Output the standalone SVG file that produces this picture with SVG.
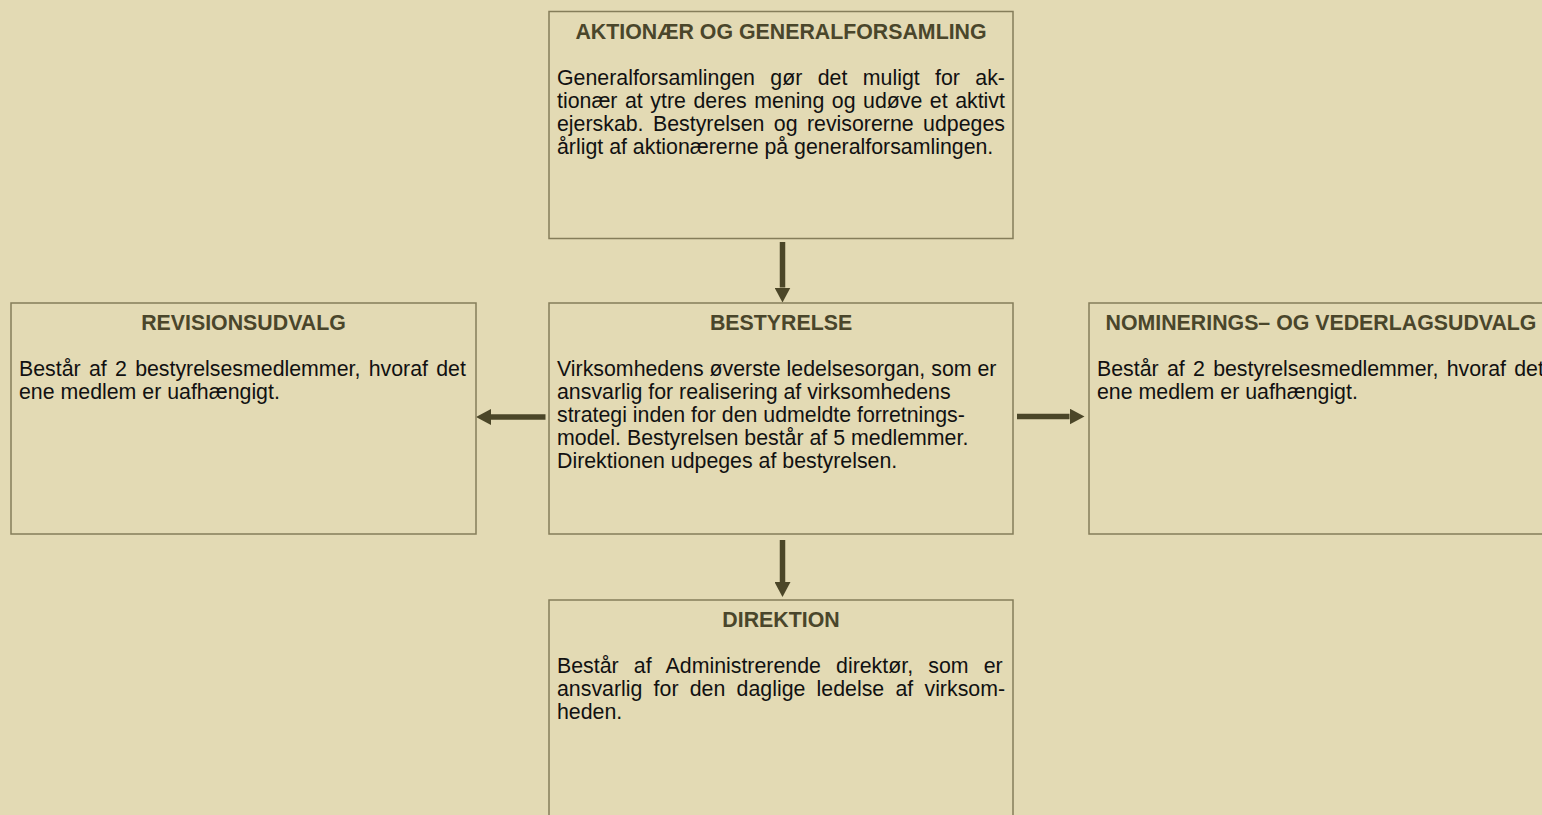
<svg xmlns="http://www.w3.org/2000/svg" width="1542" height="815" viewBox="0 0 1542 815">
<defs>
<style>
.box{fill:#E3DAB4;stroke:#857D5A;stroke-width:1.5}
.title{font-family:"Liberation Sans",Arial,sans-serif;font-weight:bold;font-size:21.33px;fill:#4A462B;text-anchor:middle}
.body{font-family:"Liberation Sans",Arial,sans-serif;font-size:21.33px;fill:#111111}
.conn{stroke:#4B4628;stroke-width:5.5;fill:none}
</style>
<marker id="ah" markerUnits="userSpaceOnUse" markerWidth="16" markerHeight="16" refX="0" refY="8" orient="auto" viewBox="0 0 16 16">
<path d="M0,0 L15,8 L0,16 Z" fill="#4B4628"/>
</marker>
</defs>
<rect width="1542" height="815" fill="#E3DAB4"/>

<g id="connectors">
<line class="conn" x1="782.5" y1="242" x2="782.5" y2="287.5" marker-end="url(#ah)"/>
<line class="conn" x1="782.5" y1="540" x2="782.5" y2="582" marker-end="url(#ah)"/>
<line class="conn" x1="1017" y1="416.5" x2="1069.5" y2="416.5" marker-end="url(#ah)"/>
<line class="conn" x1="545.5" y1="417" x2="491" y2="417" marker-end="url(#ah)"/>
</g>

<g id="node-aktionaer">
<rect class="box" x="549" y="11.5" width="464" height="227"/>
<text class="title" x="781" y="39">AKTIONÆR OG GENERALFORSAMLING</text>
<text class="body" x="557" y="85" style="word-spacing:9.46px">Generalforsamlingen gør det muligt for ak-</text>
<text class="body" x="557" y="108" style="word-spacing:1.61px">tionær at ytre deres mening og udøve et aktivt</text>
<text class="body" x="557" y="131" style="word-spacing:3.5px">ejerskab. Bestyrelsen og revisorerne udpeges</text>
<text class="body" x="557" y="154">årligt af aktionærerne på generalforsamlingen.</text>
</g>

<g id="node-bestyrelse">
<rect class="box" x="549" y="303" width="464" height="231"/>
<text class="title" x="781" y="330">BESTYRELSE</text>
<text class="body" x="557" y="376">Virksomhedens øverste ledelsesorgan, som er</text>
<text class="body" x="557" y="399">ansvarlig for realisering af virksomhedens</text>
<text class="body" x="557" y="422">strategi inden for den udmeldte forretnings-</text>
<text class="body" x="557" y="445">model. Bestyrelsen består af 5 medlemmer.</text>
<text class="body" x="557" y="468">Direktionen udpeges af bestyrelsen.</text>
</g>

<g id="node-revisionsudvalg">
<rect class="box" x="11" y="303" width="465" height="231"/>
<text class="title" x="243.5" y="330">REVISIONSUDVALG</text>
<text class="body" x="19" y="376" style="word-spacing:2.36px">Består af 2 bestyrelsesmedlemmer, hvoraf det</text>
<text class="body" x="19" y="399">ene medlem er uafhængigt.</text>
</g>

<g id="node-nominering">
<rect class="box" x="1089" y="303" width="464" height="231"/>
<text class="title" x="1321" y="330">NOMINERINGS– OG VEDERLAGSUDVALG</text>
<text class="body" x="1097" y="376" style="word-spacing:2.36px">Består af 2 bestyrelsesmedlemmer, hvoraf det</text>
<text class="body" x="1097" y="399">ene medlem er uafhængigt.</text>
</g>

<g id="node-direktion">
<rect class="box" x="549" y="600" width="464" height="240"/>
<text class="title" x="781" y="627">DIREKTION</text>
<text class="body" x="557" y="673" style="word-spacing:9.24px">Består af Administrerende direktør, som er</text>
<text class="body" x="557" y="696" style="word-spacing:5.32px">ansvarlig for den daglige ledelse af virksom-</text>
<text class="body" x="557" y="719">heden.</text>
</g>
</svg>
